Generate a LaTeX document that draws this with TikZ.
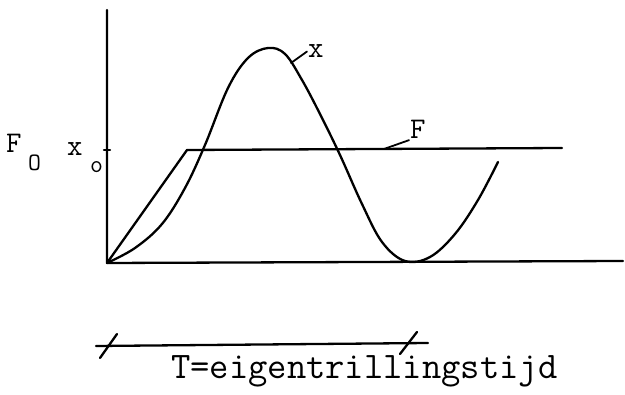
\documentclass[tikz,border=0pt]{standalone}
\usepackage{fontspec}
\begin{document}
\begin{tikzpicture}[x=1pt,y=-1pt, line width=2.3pt, line join=round, line cap=round,
  lbl/.style={font=\ttfamily\fontsize{30}{30}\selectfont, inner sep=0pt, anchor=base west},
  sublbl/.style={font=\ttfamily\fontsize{25}{25}\selectfont, inner sep=0pt, anchor=base west},
  caption/.style={font=\ttfamily\fontsize{37.5}{38}\selectfont, inner sep=0pt, anchor=base west},
  curve/.style={line width=2.3pt},
  leader/.style={line width=1.8pt}]
\useasboundingbox (0,0) rectangle (625,395);
% axes
\coordinate (O) at (107,263);
\coordinate (ytop) at (107,10);
\coordinate (xend) at (623,261);
\draw (ytop) -- (O) -- (xend);
% x0 tick
\coordinate (tickL) at (104,150);
\coordinate (tickR) at (110,150);
\draw (tickL) -- (tickR);
% F line
\coordinate (Fcorner) at (187,150);
\coordinate (Fend) at (562,148);
\draw[curve] (O) -- (Fcorner) -- (Fend);
% x curve
\draw[curve] plot[smooth, tension=0.6] coordinates {(107,263) (135,248) (162,224) (185,188) (205,145) (228,88) (248,58) (268,48) (285,54) (302,80) (320,114) (340,155) (362,204) (382,242) (405,261) (430,257) (455,234) (478,200) (498,162)};
% leaders and labels
\coordinate (xlead) at (291,63);
\node[lbl] (xlabel) at (307,58) {x};
\draw[leader] (xlead) -- (xlabel.west);
\coordinate (Flead) at (384,149);
\node[lbl] (Flabel) at (409,139) {F};
\draw[leader] (Flead) -- (Flabel.south west);
% axis labels
\node[lbl] (F0) at (5,153) {F};
\node[sublbl] (F0sub) at (27,171) {O};
\node[lbl] (x0) at (66,156) {x};
\node[sublbl] (x0sub) at (89,173) {o};
% period bar
\coordinate (barL) at (96,346);
\coordinate (barR) at (428,343);
\draw (barL) -- (barR);
\coordinate (t1a) at (100,358);
\coordinate (t1b) at (117,334);
\coordinate (t2a) at (400,354);
\coordinate (t2b) at (417,332);
\draw (t1a) -- (t1b);
\draw (t2a) -- (t2b);
\node[caption] (cap) at (170,379) {T=eigentrillingstijd};
\end{tikzpicture}
\end{document}
